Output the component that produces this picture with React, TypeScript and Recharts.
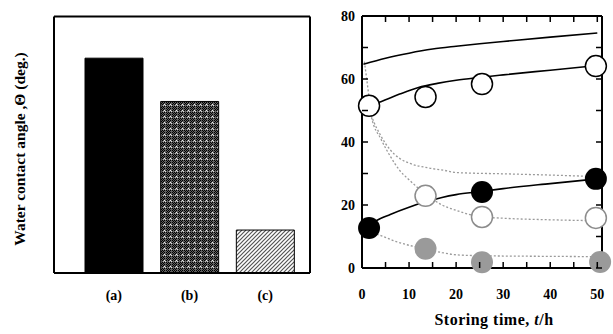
import React from 'react'
import { BarChart, Bar, Cell, ComposedChart, Line, XAxis, YAxis, Label } from 'recharts'

// left panel: contact angle of the three films
const SAMPLES = ['(a)', '(b)', '(c)']
const ANGLES = [67, 53.5, 13.4]

// right panel: measured points (storing time in h, angle in deg.)
const OPEN_T = [1.5, 13.5, 25.5, 49.7]
const OPEN_V = [51.5, 54.3, 58.4, 64.1]
const FILLED_T = [1.5, 25.5, 49.7]
const FILLED_V = [12.7, 24.1, 28.3]
const GRAY_OPEN_T = [13.5, 25.5, 49.7]
const GRAY_OPEN_V = [22.9, 16.2, 15.9]
const GRAY_FILLED_T = [13.5, 25.5, 50.6]
const GRAY_FILLED_V = [6.1, 1.8, 1.9]

// right panel: guide curves
const UPPER_T = [0.3, 5, 10, 15, 20, 25, 30, 40, 50]
const UPPER_V = [64.7, 66.6, 68.2, 69.5, 70.4, 71.2, 71.9, 73.3, 74.6]
const OPEN_FIT_T = [1.5, 4, 8, 12, 16, 20, 25, 30, 40, 50]
const OPEN_FIT_V = [51.5, 52.8, 55.2, 57.3, 58.6, 59.6, 60.5, 61.3, 62.8, 64.3]
const FILLED_FIT_T = [1.5, 3, 6, 10, 13.5, 17, 20, 25.5, 30, 40, 50]
const FILLED_FIT_V = [13.5, 15, 17, 19.3, 21, 22.4, 23.3, 24.3, 25.2, 26.8, 28.3]
const DECAY_A_T = [0.5, 1, 1.5, 2, 4, 6, 8, 10, 13.5, 17, 20, 25, 30, 40, 50]
const DECAY_A_V = [65.5, 60, 54, 48, 41, 35.5, 31, 28, 23.5, 20, 18.3, 16.3, 15.8, 15.3, 15]
const DECAY_B_T = [1.5, 2, 4, 6, 8, 10, 14, 17.5, 20, 30, 40, 50]
const DECAY_B_V = [51, 48.5, 42, 37.5, 34.8, 33.3, 31.8, 31, 30.3, 29.9, 29.5, 29]
const DECAY_C_T = [1.5, 4, 7, 10, 13.5, 17, 20, 25, 30, 40, 50]
const DECAY_C_V = [11.5, 10.3, 8.5, 7.2, 6, 4.9, 4.2, 3.9, 3.8, 3.7, 3.6]

const ANGLE_TICKS = [0, 10, 20, 30, 40, 50, 60, 70, 80]
const TIME_TICKS = [0, 5, 10, 15, 20, 25, 30, 35, 40, 45, 50]

const BAR_FILLS = ['#000', 'url(#crossPat)', 'url(#hatchPat)']

const FONT = '"Liberation Serif", "Times New Roman", serif'
const tickFont = { fontSize: 14, fontWeight: 700, fill: '#000', fontFamily: FONT }
const frame = { stroke: '#000', strokeWidth: 2 }
const TICK_LEN = 6

const pts = (ts: number[], vs: number[]) => ts.map((t, i) => ({ t, v: vs[i] }))

const barData = SAMPLES.map((name, i) => ({ name, angle: ANGLES[i] }))

// inward ticks; text only on the labelled values
const LeftTick = ({ x, y, payload }: any) => (
  <g>
    <line x1={x} x2={x + TICK_LEN} y1={y} y2={y} stroke="#000" strokeWidth={1.5} />
    {payload.value % 20 === 0 && (
      <text x={x - 7} y={y} dy="0.36em" textAnchor="end" {...tickFont}>{payload.value}</text>
    )}
  </g>
)
const RightTick = ({ x, y }: any) => (
  <line x1={x - TICK_LEN} x2={x} y1={y} y2={y} stroke="#000" strokeWidth={1.5} />
)
const BottomTick = ({ x, y, payload }: any) => (
  <g>
    <line x1={x} x2={x} y1={y - TICK_LEN} y2={y} stroke="#000" strokeWidth={1.5} />
    {payload.value % 10 === 0 && (
      <text x={x} y={y + 31} textAnchor="middle" {...tickFont}>{payload.value}</text>
    )}
  </g>
)
const TopTick = ({ x, y }: any) => (
  <line x1={x} x2={x} y1={y} y2={y + TICK_LEN} stroke="#000" strokeWidth={1.5} />
)

export default function App() {
  return (
    <div style={{ position: 'absolute', left: 0, top: 0, width: 613, height: 334, background: '#fff', fontFamily: FONT }}>
      <div style={{ position: 'absolute', left: 0, top: 0 }}>
        <BarChart width={320} height={334} data={barData} barSize={58}
          margin={{ top: 15.5, right: 9, bottom: 60, left: 53 }}>
          <defs>
            <pattern id="crossPat" width="6" height="6" patternUnits="userSpaceOnUse">
              <rect width="6" height="6" fill="#606060" />
              <rect x="0" y="0" width="1" height="1" fill="#000" />
              <rect x="2" y="0" width="1" height="1" fill="#000" />
              <rect x="4" y="0" width="1" height="1" fill="#000" />
              <rect x="1" y="1" width="1" height="1" fill="#000" />
              <rect x="5" y="1" width="1" height="1" fill="#000" />
              <rect x="0" y="2" width="1" height="1" fill="#000" />
              <rect x="4" y="2" width="1" height="1" fill="#000" />
              <rect x="0" y="4" width="1" height="1" fill="#000" />
              <rect x="2" y="4" width="1" height="1" fill="#000" />
              <rect x="4" y="4" width="1" height="1" fill="#000" />
              <rect x="1" y="5" width="1" height="1" fill="#000" />
              <rect x="5" y="5" width="1" height="1" fill="#000" />
              <rect x="2" y="2" width="1" height="1" fill="#eee" />
              <rect x="3" y="3" width="1" height="1" fill="#ddd" />
              <rect x="1" y="3" width="1" height="1" fill="#bbb" />
            </pattern>
            <pattern id="hatchPat" width="4" height="4" patternUnits="userSpaceOnUse">
              <rect width="4" height="4" fill="#fff" />
              <path d="M0,4 L4,0 M-1,1 L1,-1 M3,5 L5,3" stroke="#555" strokeWidth="1.2" />
            </pattern>
          </defs>
          <XAxis dataKey="name" height={1} padding={{ left: 22, right: 7 }} interval={0}
            axisLine={frame} tickLine={false} tickSize={0} tickMargin={17} tick={tickFont} />
          <XAxis xAxisId="top" orientation="top" dataKey="name" height={1} padding={{ left: 22, right: 7 }}
            axisLine={frame} tickLine={false} tick={false} />
          <YAxis width={1} domain={[0, 80]} axisLine={frame} tickLine={false} tick={false}>
            <Label content={() => (
              <text x={25} y={149} transform="rotate(-90, 25, 149)" textAnchor="middle"
                fontSize={15.5} fontWeight={700} fontFamily={FONT} fill="#000">
                Water contact angle ,Θ (deg.)
              </text>
            )} />
          </YAxis>
          <YAxis yAxisId="right" orientation="right" width={1} domain={[0, 80]} allowDataOverflow
            axisLine={frame} tickLine={false} tick={false} />
          <Bar dataKey="angle" stroke="#000" strokeWidth={1} isAnimationActive={false}>
            {barData.map((d, i) => <Cell key={d.name} fill={BAR_FILLS[i]} />)}
          </Bar>
        </BarChart>
      </div>
      <div style={{ position: 'absolute', left: 320, top: 0 }}>
        <ComposedChart width={293} height={334} margin={{ top: 15, right: 10, bottom: 65, left: 41 }}>
          <XAxis dataKey="t" type="number" domain={[0, 51]} ticks={TIME_TICKS} interval={0}
            height={1} axisLine={frame} tickLine={false} tickSize={0} tickMargin={0} tick={<BottomTick />}>
            <Label content={(p: any) => {
              const vb = p.viewBox
              return (
                <text x={vb.x + vb.width / 2 + 12} y={vb.y + 57} textAnchor="middle" fontSize={16}
                  fontWeight={700} fontFamily={FONT} fill="#000" letterSpacing={0.5}>
                  Storing time, <tspan fontStyle="italic">t</tspan>/h
                </text>
              )
            }} />
          </XAxis>
          <XAxis xAxisId="top" orientation="top" dataKey="t" type="number" domain={[0, 51]} allowDataOverflow
            ticks={TIME_TICKS} interval={0} height={1} axisLine={frame} tickLine={false} tickSize={0}
            tickMargin={0} tick={<TopTick />} />
          <YAxis type="number" domain={[0, 80]} ticks={ANGLE_TICKS} interval={0} width={1}
            axisLine={frame} tickLine={false} tickSize={0} tickMargin={0} tick={<LeftTick />} />
          <YAxis yAxisId="right" orientation="right" type="number" domain={[0, 80]} allowDataOverflow
            ticks={ANGLE_TICKS} interval={0} width={1} axisLine={frame} tickLine={false} tickSize={0}
            tickMargin={0} tick={<RightTick />} />

          <Line data={pts(DECAY_A_T, DECAY_A_V)} dataKey="v" type="monotone" stroke="#9a9a9a" strokeWidth={1.3}
            strokeDasharray="2 2" dot={false} activeDot={false} isAnimationActive={false} />
          <Line data={pts(DECAY_B_T, DECAY_B_V)} dataKey="v" type="monotone" stroke="#9a9a9a" strokeWidth={1.3}
            strokeDasharray="2 2" dot={false} activeDot={false} isAnimationActive={false} />
          <Line data={pts(DECAY_C_T, DECAY_C_V)} dataKey="v" type="monotone" stroke="#9a9a9a" strokeWidth={1.3}
            strokeDasharray="2 2" dot={false} activeDot={false} isAnimationActive={false} />

          <Line xAxisId="top" yAxisId="right" data={pts(UPPER_T, UPPER_V)} dataKey="v" type="monotone"
            stroke="#000" strokeWidth={1.6} dot={false} activeDot={false} isAnimationActive={false} />
          <Line data={pts(OPEN_FIT_T, OPEN_FIT_V)} dataKey="v" type="monotone" stroke="#000" strokeWidth={1.6}
            dot={false} activeDot={false} isAnimationActive={false} />
          <Line data={pts(FILLED_FIT_T, FILLED_FIT_V)} dataKey="v" type="monotone" stroke="#000" strokeWidth={1.6}
            dot={false} activeDot={false} isAnimationActive={false} />

          <Line data={pts(GRAY_OPEN_T, GRAY_OPEN_V)} dataKey="v" stroke="none" activeDot={false}
            dot={{ r: 10.5, fill: '#fff', stroke: '#8c8c8c', strokeWidth: 1.5 }} isAnimationActive={false} />
          <Line data={pts(GRAY_FILLED_T, GRAY_FILLED_V)} dataKey="v" stroke="none" activeDot={false}
            dot={{ r: 11, fill: '#9a9a9a', stroke: '#9a9a9a', strokeWidth: 0 }} isAnimationActive={false} />
          <Line data={pts(OPEN_T, OPEN_V)} dataKey="v" stroke="none" activeDot={false}
            dot={{ r: 10.5, fill: '#fff', stroke: '#000', strokeWidth: 1.5 }} isAnimationActive={false} />
          <Line data={pts(FILLED_T, FILLED_V)} dataKey="v" stroke="none" activeDot={false}
            dot={{ r: 11, fill: '#000', stroke: '#000', strokeWidth: 0 }} isAnimationActive={false} />
        </ComposedChart>
      </div>
    </div>
  )
}
